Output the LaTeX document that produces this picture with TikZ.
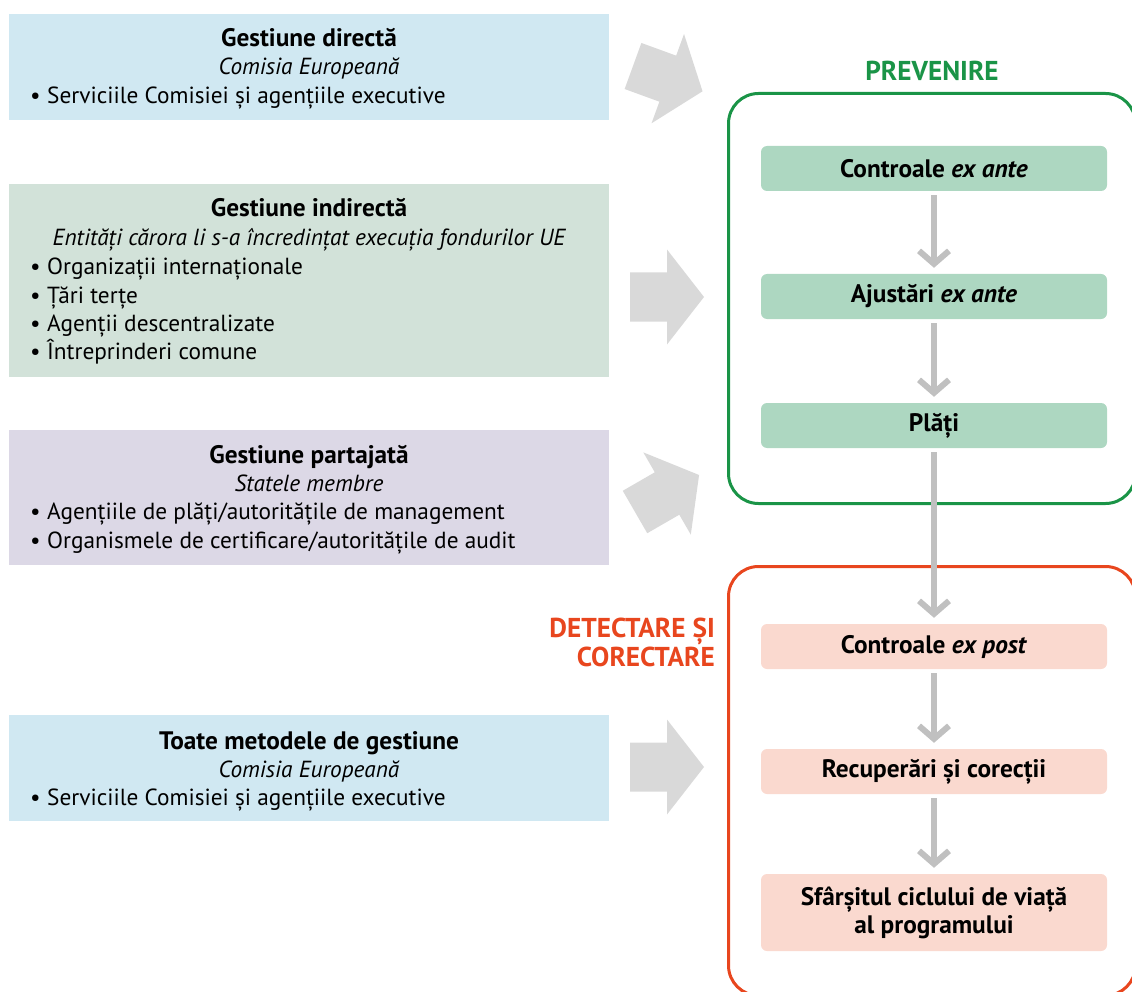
\documentclass[tikz,border=0pt]{standalone}
\usepackage{fontspec}
\setmainfont{PT Sans}
\usetikzlibrary{arrows.meta}

\definecolor{panelblue}{HTML}{D0E8F2}
\definecolor{panelgreen}{HTML}{D2E2D9}
\definecolor{panellilac}{HTML}{DCD8E6}
\definecolor{arrowgray}{HTML}{D9D9D9}
\definecolor{flowgray}{HTML}{C0C0C0}
\definecolor{prevgreen}{HTML}{1A9447}
\definecolor{prevfill}{HTML}{ADD7C1}
\definecolor{detred}{HTML}{E8461E}
\definecolor{detfill}{HTML}{FAD9CF}

\newcommand{\bodysize}{\fontsize{23.3}{28}\selectfont}
\newcommand{\headsize}{\fontsize{25.3}{28}\selectfont}
\newcommand{\bul}[1]{\makebox[17pt][l]{\textbullet}#1}

\begin{document}
\begin{tikzpicture}[x=1pt,y=-1pt,
  panel/.style={anchor=north west, inner sep=0pt, minimum width=600pt},
  ttl/.style={anchor=base, inner sep=0pt, font=\headsize\bfseries},
  sub/.style={anchor=base, inner sep=0pt, font=\bodysize\itshape},
  item/.style={anchor=base west, inner sep=0pt, font=\bodysize},
  stage/.style={rounded corners=6pt, minimum width=346pt, minimum height=45pt,
    inner sep=0pt, align=center, font=\headsize\bfseries},
  frame/.style={draw, line width=3pt, rounded corners=30pt, anchor=north west,
    minimum width=407pt, inner sep=0pt},
  phase/.style={inner sep=0pt, font=\fontsize{27.3}{29}\selectfont\bfseries},
  bigarrow/.style={fill=arrowgray},
  flow/.style={draw=flowgray, line width=6pt,
    -{Straight Barb[length=13pt,width=30pt]}, shorten <=4pt, shorten >=6pt}
]
\useasboundingbox (0,0) rectangle (1132,992);

% ---- management modes (left column) ----
\node[panel, fill=panelblue, minimum height=106pt] (direct) at (9,14) {};
\node[ttl] (direct-t) at (309,47) {Gestiune directă};
\node[sub] (direct-s) at (309,75) {Comisia Europeană};
\node[item] (direct-1) at (30,104) {\bul{Serviciile Comisiei și agențiile executive}};

\node[panel, fill=panelgreen, minimum height=193pt] (indirect) at (9,184) {};
\node[ttl] (indirect-t) at (309,217) {Gestiune indirectă};
\node[sub] (indirect-s) at (309,246) {Entități cărora li s-a încredințat execuția fondurilor UE};
\foreach \t [count=\i] in {Organizații internaționale, Țări terțe,
    Agenții descentralizate, Întreprinderi comune}
  \node[item] (indirect-\i) at (30,{275+(\i-1)*28.3}) {\bul{\t}};

\node[panel, fill=panellilac, minimum height=135pt] (shared) at (9,430) {};
\node[ttl] (shared-t) at (309,463) {Gestiune partajată};
\node[sub] (shared-s) at (309,491) {Statele membre};
\node[item] (shared-1) at (30,519) {\bul{Agențiile de plăți/autoritățile de management}};
\node[item] (shared-2) at (30,548) {\bul{Organismele de certificare/autoritățile de audit}};

\node[panel, fill=panelblue, minimum height=106pt] (all) at (9,715) {};
\node[ttl] (all-t) at (309,749) {Toate metodele de gestiune};
\node[sub] (all-s) at (309,777) {Comisia Europeană};
\node[item] (all-1) at (30,805) {\bul{Serviciile Comisiei și agențiile executive}};

% ---- block arrows towards the control phases ----
\foreach \pos/\ang in {{(633,66)}/-20, {(630,297)}/0, {(635,512)}/30, {(630,767)}/0}
  \fill[bigarrow, shift={\pos}, rotate=\ang]
    (0,-24.5) -- (37,-24.5) -- (37,-47.5) -- (74,0) -- (37,47.5) -- (37,24.5) -- (0,24.5) -- cycle;

% ---- phase frames ----
\node[frame, draw=prevgreen, minimum height=410pt] (prevframe) at (727,92) {};
\node[frame, draw=detred, minimum height=429pt] (detframe) at (727,565) {};
\node[phase, text=prevgreen] (prevlabel) at (932,71) {PREVENIRE};
\node[phase, text=detred, anchor=east, align=right] (detlabel) at (715,642)
  {DETECTARE ȘI\\CORECTARE};

% ---- control stages ----
\node[stage, fill=prevfill] (exante) at (934,168.5) {Controale \textit{ex ante}};
\node[stage, fill=prevfill] (adjust) at (934,296.5) {Ajustări \textit{ex ante}};
\node[stage, fill=prevfill] (pay) at (934,425.5) {Plăți};
\node[stage, fill=detfill] (expost) at (934,646.5) {Controale \textit{ex post}};
\node[stage, fill=detfill] (recov) at (934,771.5) {Recuperări și corecții};
\node[stage, fill=detfill, minimum height=77pt] (closure) at (934,912.5)
  {Sfârșitul ciclului de viață\\al programului};

\draw[flow] (exante) -- (adjust);
\draw[flow] (adjust) -- (pay);
\draw[flow] (pay) -- (expost);
\draw[flow] (expost) -- (recov);
\draw[flow] (recov) -- (closure);
\end{tikzpicture}
\end{document}
